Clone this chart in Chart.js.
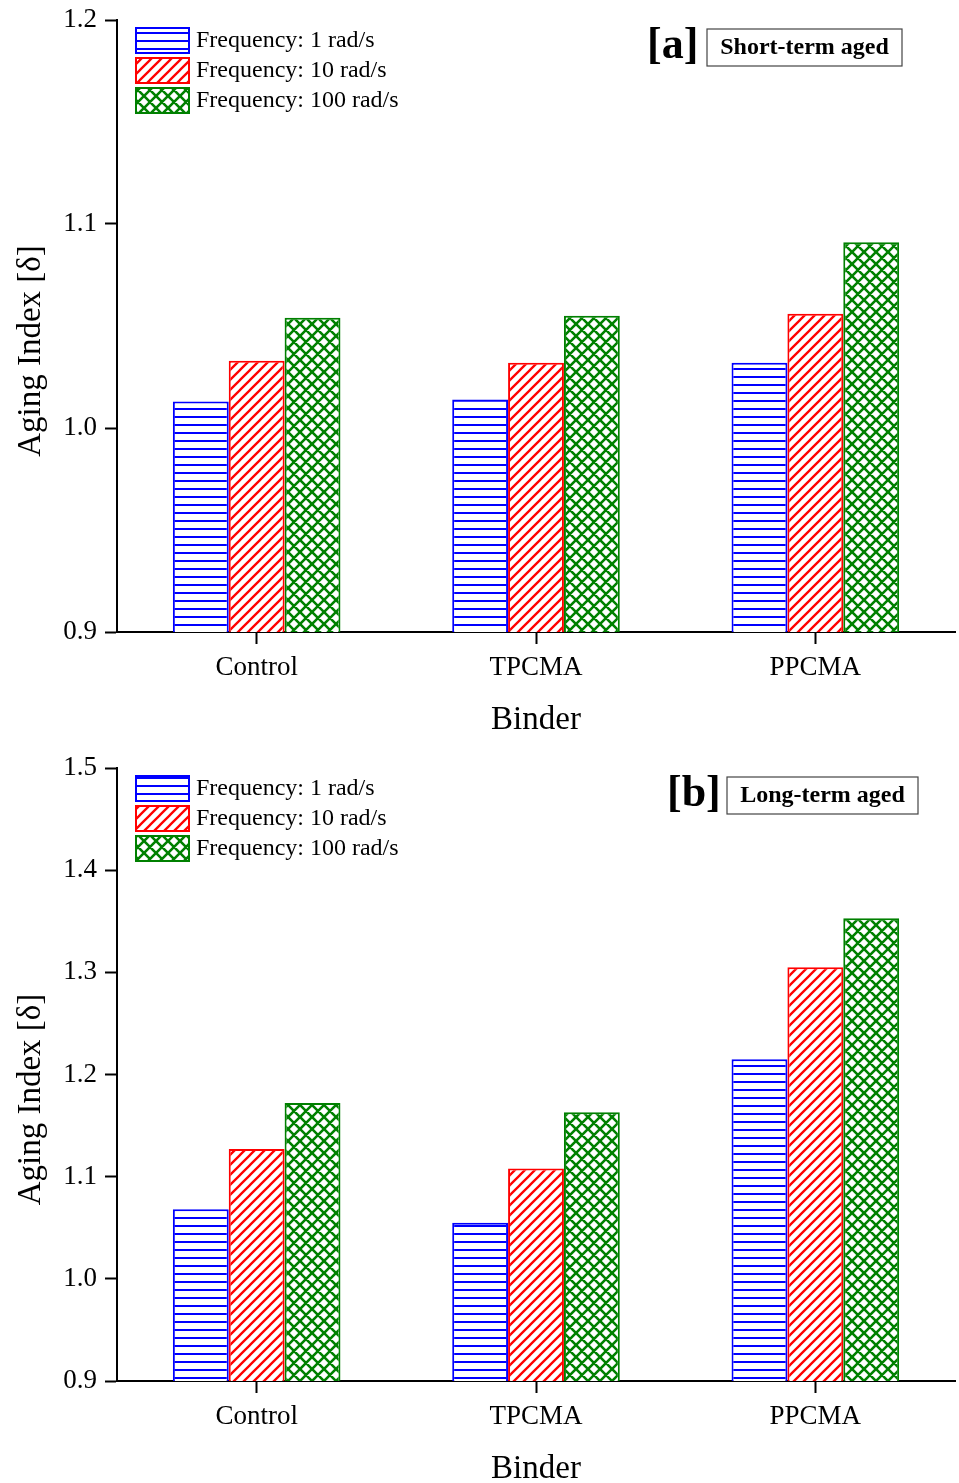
<!DOCTYPE html>
<html>
<head>
<meta charset="utf-8">
<script src="https://cdn.jsdelivr.net/npm/chart.js@4.4.1/dist/chart.umd.min.js"></script>
<style>
    body { margin: 0; background: #fff; }
    canvas { display: block; }
</style>
</head>
<body>
<canvas id="short-plot" width="959" height="745"></canvas>
<canvas id="long-plot" width="959" height="738"></canvas>
<script>
const categories = ['Control', 'TPCMA', 'PPCMA'];
const seriesLabels = ['Frequency: 1 rad/s', 'Frequency: 10 rad/s', 'Frequency: 100 rad/s'];

// short-term aged (panel a)
const shortF1 = [1.013, 1.014, 1.032];
const shortF10 = [1.033, 1.032, 1.056];
const shortF100 = [1.054, 1.055, 1.091];

// long-term aged (panel b)
const longF1 = [1.068, 1.055, 1.215];
const longF10 = [1.127, 1.108, 1.305];
const longF100 = [1.172, 1.163, 1.353];

const FONT = "'Liberation Serif', 'Times New Roman', serif";

function makePattern(kind, color) {
    const c = document.createElement('canvas');
    const ctx = c.getContext('2d');
    if (kind === 'hline') {
        c.width = 8; c.height = 8;
        ctx.fillStyle = '#fff';
        ctx.fillRect(0, 0, 8, 8);
        ctx.fillStyle = color;
        ctx.fillRect(0, 0, 8, 2);
    } else {
        const s = kind === 'diag' ? 10 : 12;
        c.width = s; c.height = s;
        ctx.fillStyle = '#fff';
        ctx.fillRect(0, 0, s, s);
        ctx.strokeStyle = color;
        ctx.lineWidth = kind === 'diag' ? 2.3 : 2.6;
        ctx.beginPath();
        // "/" lines
        ctx.moveTo(-2, s + 2); ctx.lineTo(s + 2, -2);
        ctx.moveTo(-2, 2); ctx.lineTo(2, -2);
        ctx.moveTo(s - 2, s + 2); ctx.lineTo(s + 2, s - 2);
        if (kind === 'cross') {
            // "\" lines
            ctx.moveTo(-2, -2); ctx.lineTo(s + 2, s + 2);
            ctx.moveTo(s - 2, -2); ctx.lineTo(s + 2, 2);
            ctx.moveTo(-2, s - 2); ctx.lineTo(2, s + 2);
        }
        ctx.stroke();
    }
    return document.createElement('canvas').getContext('2d').createPattern(c, 'repeat');
}

const seriesStyles = [
    { color: '#0000ff', kind: 'hline' },
    { color: '#ff0000', kind: 'diag' },
    { color: '#008000', kind: 'cross' }
];

// legend drawn inside the plot area, top left
const innerLegend = {
    id: 'innerLegend',
    afterDraw(chart) {
        const ctx = chart.ctx;
        const area = chart.chartArea;
        ctx.save();
        chart.data.datasets.forEach((ds, i) => {
            const x = area.left + 19;
            const y = area.top + 8 + i * 30;
            ctx.fillStyle = ds.backgroundColor;
            ctx.fillRect(x, y, 53, 25);
            ctx.strokeStyle = ds.borderColor;
            ctx.lineWidth = 2;
            ctx.strokeRect(x, y, 53, 25);
            ctx.fillStyle = '#000';
            ctx.font = '24px ' + FONT;
            ctx.textBaseline = 'middle';
            ctx.fillText(ds.label, x + 60, y + 13);
        });
        ctx.restore();
    }
};

// "[a]" tag, boxed caption and axis titles
const panelTag = {
    id: 'panelTag',
    afterDraw(chart, args, opts) {
        const ctx = chart.ctx;
        const area = chart.chartArea;
        const top = area.top;
        ctx.save();
        ctx.fillStyle = '#000';
        ctx.textBaseline = 'middle';
        ctx.font = 'bold 44px ' + FONT;
        ctx.fillText(opts.tag, opts.tagX, top + 27);
        ctx.strokeStyle = '#444';
        ctx.lineWidth = 1.2;
        ctx.strokeRect(opts.boxX, top + 9, opts.boxW, 37);
        ctx.font = 'bold 24px ' + FONT;
        ctx.textAlign = 'center';
        ctx.fillText(opts.text, opts.boxX + opts.boxW / 2, top + 28);

        ctx.font = '33px ' + FONT;
        ctx.fillText('Binder', (area.left + area.right) / 2, area.bottom + 88);
        ctx.translate(31, (area.top + area.bottom) / 2 + 25);
        ctx.rotate(-Math.PI / 2);
        ctx.fillText('Aging Index [δ]', 0, 0);
        ctx.restore();
    }
};

function buildChart(canvasId, values, yMax, tag, caption, tagX, boxX, boxW, padTop, xHeight) {
    const datasets = values.map((v, i) => ({
        label: seriesLabels[i],
        data: v,
        backgroundColor: makePattern(seriesStyles[i].kind, seriesStyles[i].color),
        borderColor: seriesStyles[i].color,
        borderWidth: 2,
        borderSkipped: 'start',
        categoryPercentage: 0.6,
        barPercentage: 1.0
    }));

    return new Chart(document.getElementById(canvasId).getContext('2d'), {
        type: 'bar',
        data: { labels: categories, datasets: datasets },
        plugins: [innerLegend, panelTag],
        options: {
            responsive: false,
            animation: false,
            layout: { padding: { left: 0, top: padTop, right: 4, bottom: 0 } },
            plugins: {
                legend: { display: false },
                tooltip: { enabled: false },
                panelTag: { tag: tag, text: caption, tagX: tagX, boxX: boxX, boxW: boxW }
            },
            scales: {
                x: {
                    afterFit: (scale) => {
                        scale.height = xHeight;
                        scale.paddingLeft = 0;
                        scale.paddingRight = 0;
                    },
                    grid: { display: true, drawOnChartArea: false, drawTicks: true, tickLength: 12, tickColor: '#000', tickWidth: 2, offset: false },
                    border: { display: true, color: '#000', width: 2 },
                    ticks: { color: '#000', font: { family: FONT, size: 27 }, padding: 8 }
                },
                y: {
                    min: 0.9,
                    max: yMax,
                    afterFit: (scale) => {
                        scale.width = 117;
                        scale.paddingTop = 0;
                        scale.paddingBottom = 0;
                    },
                    grid: { display: true, drawOnChartArea: false, drawTicks: true, tickLength: 12, tickColor: '#000', tickWidth: 2 },
                    border: { display: true, color: '#000', width: 2 },
                    ticks: {
                        stepSize: 0.1,
                        color: '#000',
                        font: { family: FONT, size: 27 },
                        padding: 8,
                        callback: (v) => Number(v).toFixed(1)
                    }
                }
            }
        }
    });
}

buildChart('short-plot', [shortF1, shortF10, shortF100], 1.2, '[a]', 'Short-term aged', 647, 707, 195, 20, 113);
buildChart('long-plot', [longF1, longF10, longF100], 1.5, '[b]', 'Long-term aged', 667, 727, 191, 23, 102);
</script>
</body>
</html>
